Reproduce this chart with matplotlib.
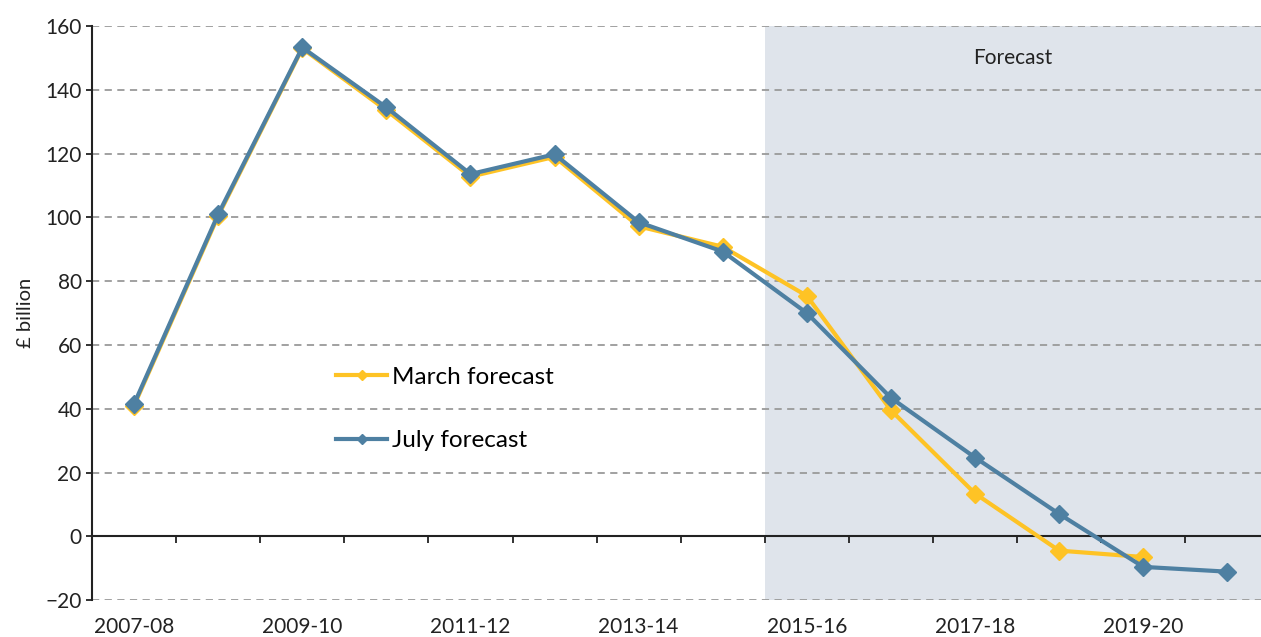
import numpy as np
import matplotlib.pyplot as plt

plt.rcParams['font.family'] = ['Lato', 'DejaVu Sans']

years = ['2007-08', '2008-09', '2009-10', '2010-11', '2011-12', '2012-13', '2013-14',
         '2014-15', '2015-16', '2016-17', '2017-18', '2018-19', '2019-20', '2020-21']
march = [41, 100.5, 153, 133.6, 112.8, 119, 97.2, 90.8, 75.4, 39.5, 13.4, -4.5, -6.5]
july = [41.5, 101, 153.3, 134.5, 113.6, 119.8, 98.5, 89.3, 70, 43.4, 24.7, 7, -9.6, -11.1]
forecast_start = '2015-16'

yellow = '#FEC325'
blue = '#4E80A2'

fig = plt.figure(figsize=(12.61, 6.37), dpi=100)
ax = fig.add_axes([0.073, 0.058, 0.927, 0.901])

x = np.arange(len(years))
i0 = years.index(forecast_start) - 0.5
ax.axvspan(i0, 13.4, color='#DFE4EB', zorder=0, lw=0)
ax.text((i0 + 13.4) / 2, 150, 'Forecast', ha='center', va='center', fontsize=15, color='#222222')

ax.plot(x[:len(march)], march, color=yellow, lw=3, marker='D', ms=9, label='March forecast', zorder=3)
ax.plot(x, july, color=blue, lw=3, marker='D', ms=9, label='July forecast', zorder=4)

ax.set_xlim(-0.5, 13.4)
ax.set_ylim(-20, 160)
ax.set_yticks(np.arange(-20, 161, 20))
ax.yaxis.grid(True, ls=(0, (4, 3)), color='#9a9a9a', lw=1.3)
ax.set_axisbelow(True)
for s in ['top', 'right']:
    ax.spines[s].set_visible(False)
ax.spines['left'].set_color('#222222')
ax.spines['left'].set_linewidth(1.5)
ax.spines['bottom'].set_position(('data', 0))
ax.spines['bottom'].set_color('#222222')
ax.spines['bottom'].set_linewidth(1.5)
ax.set_xticks(np.arange(-0.5, 13.5, 1))
ax.set_xticklabels([])
ax.tick_params(axis='x', length=5, width=1.3, color='#222222')
ax.tick_params(axis='y', length=4, width=1.3, color='#222222', labelsize=15, labelcolor='#222222')
ax.set_ylabel('£ billion', fontsize=14.5, color='#222222', labelpad=8)

sec = ax.secondary_xaxis(0)
sec.set_xticks(x[::2])
sec.set_xticklabels(years[::2])
sec.tick_params(length=0, labelsize=15, labelcolor='#222222', pad=12)
sec.spines['bottom'].set_visible(False)

ax.legend(loc='upper left', bbox_to_anchor=(0.19, 0.445), frameon=False, fontsize=17.5,
          handlelength=2.1, handletextpad=0.2, labelspacing=1.75, markerscale=0.6)

fig.savefig('out.png', dpi=100)
